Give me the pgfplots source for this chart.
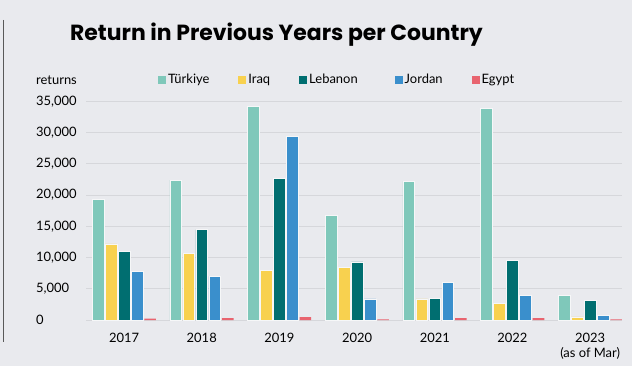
\documentclass[border=0pt]{standalone}
\usepackage{fontspec}
\setmainfont{Lato}
\newfontfamily\titlefont{Poppins}
\usepackage{pgfplots}
\pgfplotsset{compat=1.18}
\definecolor{bg}{HTML}{E9EAEE}
\definecolor{cTur}{HTML}{7FC8BA}
\definecolor{cIrq}{HTML}{F8D14F}
\definecolor{cLeb}{HTML}{006E70}
\definecolor{cJor}{HTML}{3A8FCC}
\definecolor{cEgy}{HTML}{E8646F}
\definecolor{grid}{HTML}{D6D7DB}
\begin{document}
\begin{tikzpicture}[x=1bp,y=1bp]
\fill[bg] (0,0) rectangle (632,366);
\draw[color=black!65, line width=1bp] (3.7,366-20) -- (3.7,366-342);
\node[anchor=base west, inner sep=0pt, font=\titlefont\fontsize{22}{26}\selectfont\bfseries] at (70,366-40) {Return in Previous Years per Country};
\begin{axis}[
  at={(86bp,46bp)}, anchor=south west,
  scale only axis, width=536bp, height=218.7bp,
  xmin=-0.49, xmax=6.41, ymin=0, ymax=35000,
  axis line style={draw=none},
  major tick length=0pt,
  ymajorgrids, grid style={color=grid, line width=1bp},
  ytick={0,5000,...,35000},
  scaled y ticks=false,
  yticklabel={\pgfmathprintnumber[assume math mode=true,fixed,1000 sep={,}]{\tick}},
  yticklabel style={anchor=west, inner sep=0pt, xshift=-50bp, font=\fontsize{13}{15}\selectfont},
  xtick={0,1,2,3,4,5,6},
  xticklabels={2017,2018,2019,2020,2021,2022,{2023\\(as of Mar)}},
  xticklabel style={anchor=north, inner sep=0pt, yshift=-13bp, align=center, font=\fontsize{13}{14.5}\selectfont},
  ybar, bar width=11.6bp,
  every axis plot/.append style={draw=white!60!bg, line width=0.5bp},
  clip=false,
  legend columns=5,
  legend style={at={(rel axis cs:0.1343,1.0975)}, anchor=west, draw=none, fill=none, inner sep=0pt, font=\fontsize{13}{15}\selectfont,
    /tikz/every even column/.append style={column sep=27bp}},
  legend cell align=left,
  legend image code/.code={\fill[#1, draw=none] (0bp,-4bp) rectangle (8bp,4bp);},
]
\addplot[fill=cTur, bar shift=-26bp] coordinates {(0,19300) (1,22400) (2,34200) (3,16750) (4,22200) (5,33900) (6,3950)};
\addplot[fill=cIrq, bar shift=-13bp] coordinates {(0,12200) (1,10700) (2,8000) (3,8400) (4,3400) (5,2700) (6,500)};
\addplot[fill=cLeb, bar shift=0bp] coordinates {(0,11000) (1,14450) (2,22700) (3,9300) (4,3500) (5,9600) (6,3200)};
\addplot[fill=cJor, bar shift=13bp] coordinates {(0,7800) (1,7000) (2,29400) (3,3400) (4,6000) (5,3950) (6,800)};
\addplot[fill=cEgy, bar shift=26bp, draw=none] coordinates {(0,220) (1,320) (2,450) (3,120) (4,320) (5,320) (6,120)};
\legend{Türkiye,Iraq,Lebanon\rule{8bp}{0pt},Jordan,Egypt}
\node[anchor=west, inner sep=0pt, font=\fontsize{13}{15}\selectfont] at (rel axis cs:-0.0933,1.0975) {returns};
\end{axis}
\end{tikzpicture}
\end{document}
